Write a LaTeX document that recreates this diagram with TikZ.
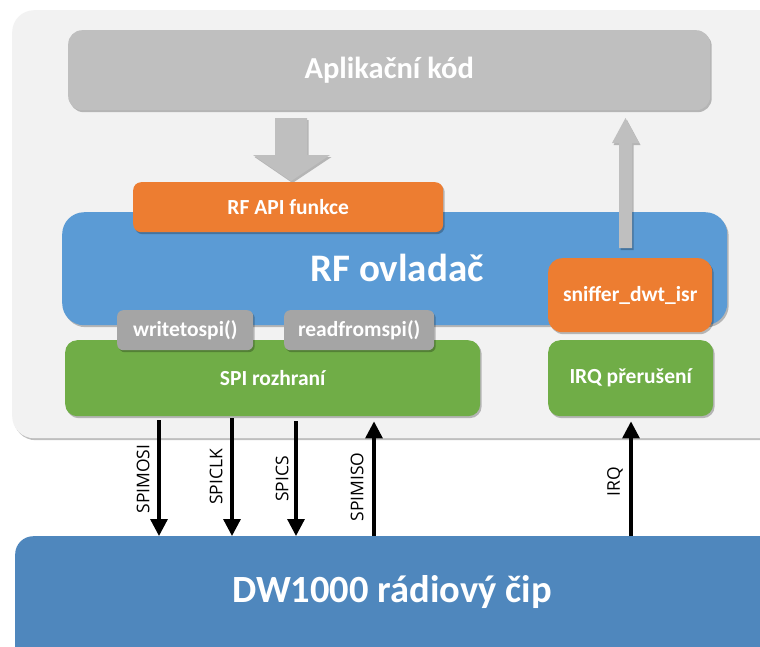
\documentclass[tikz,border=0pt]{standalone}
\usepackage{fontspec}
\setmainfont{Carlito}
\newfontfamily\labelfont{Open Sans}
\usetikzlibrary{shadows,arrows.meta}
\definecolor{panel}{HTML}{F2F2F2}
\definecolor{appgray}{HTML}{BFBFBF}
\definecolor{fngray}{HTML}{A5A5A5}
\definecolor{orng}{HTML}{ED7D31}
\definecolor{lblue}{HTML}{5B9BD5}
\definecolor{grn}{HTML}{70AD47}
\definecolor{chipblue}{HTML}{4F87BD}
\begin{document}
\begin{tikzpicture}[x=1pt,y=-1pt,
  blk/.style={rounded corners=#1, inner sep=0pt, text=white, anchor=north west,
    drop shadow={shadow xshift=1.5pt, shadow yshift=-2pt, opacity=.25, fill=black}},
  flat/.style={rounded corners=#1, inner sep=0pt, text=white, anchor=north west},
  small/.style={font=\bfseries\fontsize{21.5}{21.5}\selectfont},
  sig/.style={line width=3.2pt, -{Triangle[width=17pt,length=17pt]}},
  siglab/.style={rotate=90, font=\labelfont\fontsize{17.5}{17.5}\selectfont, inner sep=0pt},
  blockarrow/.style={fill=appgray, draw=none,
    drop shadow={shadow xshift=1.5pt, shadow yshift=-2pt, opacity=.25, fill=black}}]
\useasboundingbox (0,0) rectangle (760,646);
\clip (0,0) rectangle (760,646);
\fill[white] (0,0) rectangle (760,646);
% background panel
\node[blk=22pt, fill=panel, minimum width=780pt, minimum height=428pt] (panel) at (12,10) {};
% application code
\node[blk=14pt, fill=appgray, minimum width=642pt, minimum height=80pt,
  font=\bfseries\fontsize{30.5}{30.5}\selectfont] (app) at (68,30) {Aplikační kód};
% down block arrow
\path[blockarrow] (275,118) -- (307,118) -- (307,155) -- (330,155) -- (291,181) -- (253,155) -- (275,155) -- cycle;
% RF driver
\node[blk=22pt, fill=lblue, minimum width=665pt, minimum height=113pt] (drv) at (62,212) {};
\node[font=\bfseries\fontsize{39}{39}\selectfont, text=white] (drvlab) at (397,268) {RF ovladač};
% up block arrow
\path[blockarrow] (619,248) -- (619,143) -- (612,143) -- (625.5,118) -- (639,143) -- (632,143) -- (632,248) -- cycle;
% RF API
\node[blk=8pt, fill=orng, minimum width=310pt, minimum height=50pt, small] (api) at (133,182) {RF API funkce};
% sniffer
\node[blk=14pt, fill=orng, minimum width=164pt, minimum height=74pt, small] (isr) at (548,258) {sniffer\_dwt\_isr};
% SPI interface
\node[blk=12pt, fill=grn, minimum width=415pt, minimum height=76pt, small] (spi) at (65,340) {SPI rozhraní};
\node[blk=12pt, fill=grn, minimum width=165pt, minimum height=76pt, small] (irq) at (548,340) {IRQ přerušení};
% spi functions
\node[blk=6pt, fill=fngray, minimum width=136pt, minimum height=40pt, small] (wr) at (117,310) {writetospi()};
\node[blk=6pt, fill=fngray, minimum width=150pt, minimum height=40pt, small] (rd) at (284,310) {readfromspi()};
% chip
\node[flat=18pt, fill=chipblue, minimum width=800pt, minimum height=150pt] (chip) at (15,536) {};
\node[font=\bfseries\fontsize{38.5}{38.5}\selectfont, text=white] (chiplab) at (392,592) {DW1000 rádiový čip};
% signal lines
\coordinate (xmosi) at (159,0);
\coordinate (xclk) at (232,0);
\coordinate (xcs) at (296,0);
\coordinate (xmiso) at (374,0);
\coordinate (xirq) at (631,0);
\draw[sig] ([yshift=-4pt]xmosi |- spi.south) -- (xmosi |- chip.north);
\draw[sig] ([yshift=-2pt]xclk |- spi.south) -- (xclk |- chip.north);
\draw[sig] ([yshift=-5pt]xcs |- spi.south) -- (xcs |- chip.north);
\draw[sig] (xmiso |- chip.north) -- ([yshift=-5pt]xmiso |- spi.south);
\draw[sig] (xirq |- chip.north) -- ([yshift=-5pt]xirq |- irq.south);
\node[siglab] (lmosi) at (143,479) {SPIMOSI};
\node[siglab] (lclk) at (216,477) {SPICLK};
\node[siglab] (lcs) at (282,479) {SPICS};
\node[siglab] (lmiso) at (357,487) {SPIMISO};
\node[siglab] (lirq) at (615,482) {IRQ};
\end{tikzpicture}
\end{document}
